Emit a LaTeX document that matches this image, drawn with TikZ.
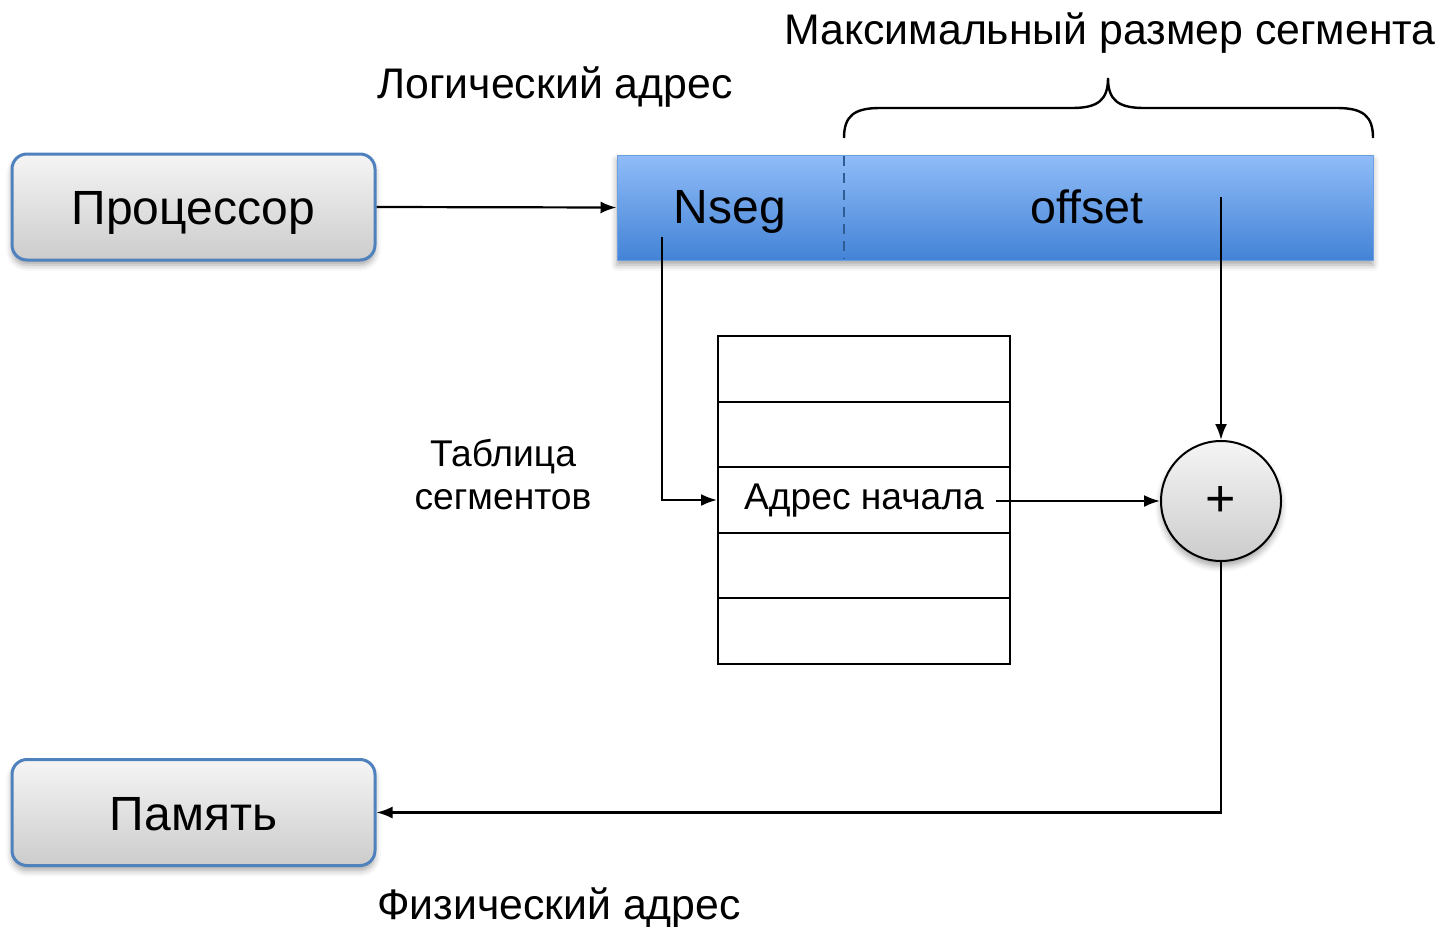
\documentclass[tikz,border=0pt]{standalone}
\usepackage{fontspec}
\setmainfont{Liberation Sans}
\usetikzlibrary{arrows.meta,shadows.blur}

\definecolor{boxblue}{HTML}{4F81BD}
\definecolor{bartop}{HTML}{90BCF8}
\definecolor{barbot}{HTML}{4383D6}
\definecolor{baredge}{HTML}{6C9EE2}
\definecolor{divider}{HTML}{2E5C94}

\tikzset{
  softshadow/.style={blur shadow={shadow xshift=0pt, shadow yshift=-2.5pt,
      shadow blur radius=3pt, shadow opacity=35}},
  unitbox/.style={rounded corners=7.5pt, draw=boxblue, line width=1.5pt,
      top color=gray!8, bottom color=gray!40,
      minimum width=181.5pt, minimum height=53pt, softshadow},
  addrbar/.style={draw=baredge, line width=0.5pt, top color=bartop, bottom color=barbot,
      minimum width=378pt, minimum height=52.5pt, softshadow},
  tabrow/.style={draw, line width=1pt, minimum width=146pt, minimum height=32.8pt},
  bigtext/.style={font=\fontsize{24}{28}\selectfont, inner sep=0pt, anchor=base},
  label/.style={font=\fontsize{21.4}{25}\selectfont, inner sep=0pt, anchor=base},
  small/.style={font=\fontsize{18.6}{22}\selectfont, inner sep=0pt, anchor=base},
  conn/.style={line width=1.1pt, -{Latex[length=8pt,width=6pt]}},
}

\begin{document}
\begin{tikzpicture}[x=0.5pt,y=-0.5pt]
  \useasboundingbox (0,0) rectangle (1439,926);

  % processor and memory
  \node[unitbox] (cpu) at (193.5,207) {};
  \node[unitbox] (mem) at (193.5,812.5) {};
  \node[bigtext] (cputxt) at (193.5,224) {Процессор};
  \node[bigtext] (memtxt) at (193.5,830) {Память};

  % logical address: segment number and offset
  \node[addrbar] (bar) at (995,207.5) {};
  \draw[divider, line width=1pt, dash pattern=on 5pt off 3.5pt] (844,156) -- (844,259);
  \node[bigtext] (nseg) at (730,223) {Nseg};
  \node[bigtext, font=\fontsize{23.3}{27}\selectfont] (off) at (1087,223) {offset};

  % brace over the offset field
  \draw[line width=1.2pt] (844,138)
      .. controls (844,116) and (854,108) .. (880,108) -- (1072,108)
      .. controls (1098,108) and (1108,100) .. (1108,78)
      .. controls (1108,100) and (1118,108) .. (1144,108) -- (1337,108)
      .. controls (1363,108) and (1373,116) .. (1373,138);

  \node[label] (maxlbl) at (1110,44) {Максимальный размер сегмента};
  \node[label] (loglbl) at (555,98) {Логический адрес};

  % segment table
  \node[tabrow] (r1) at (864,368.8) {};
  \node[tabrow] (r2) at (864,434.4) {};
  \node[tabrow] (r3) at (864,500) {};
  \node[tabrow] (r4) at (864,565.6) {};
  \node[tabrow] (r5) at (864,631.2) {};
  \node[small, inner xsep=6.5pt] (base) at (864,509) {Адрес начала};
  \node[small] (tbl1) at (503,466) {Таблица};
  \node[small] (tbl2) at (503,509) {сегментов};

  % adder
  \node[circle, draw, line width=1pt, minimum size=60pt, inner sep=0pt,
        top color=gray!8, bottom color=gray!40, softshadow] (sum) at (1221,501) {};
  \node[font=\fontsize{26}{28}\selectfont, inner sep=0pt] (plus) at (sum.center) {+};

  \node[label] (physlbl) at (559,919) {Физический адрес};

  % connectors
  \coordinate (nsegout) at (662,237);
  \coordinate (offout) at (1221,197);
  \coordinate (turn) at (1221,812.5);
  \coordinate (baseout) at (996,501);

  \draw[conn] (cpu.east) -- (bar.west);
  \draw[conn] (nsegout) |- (r3.west);
  \draw[conn] (baseout) -- (sum.west);
  \draw[conn] (offout) -- (sum.north);
  \draw[conn] (sum.south) -- (turn) -- (mem.east);
\end{tikzpicture}
\end{document}
